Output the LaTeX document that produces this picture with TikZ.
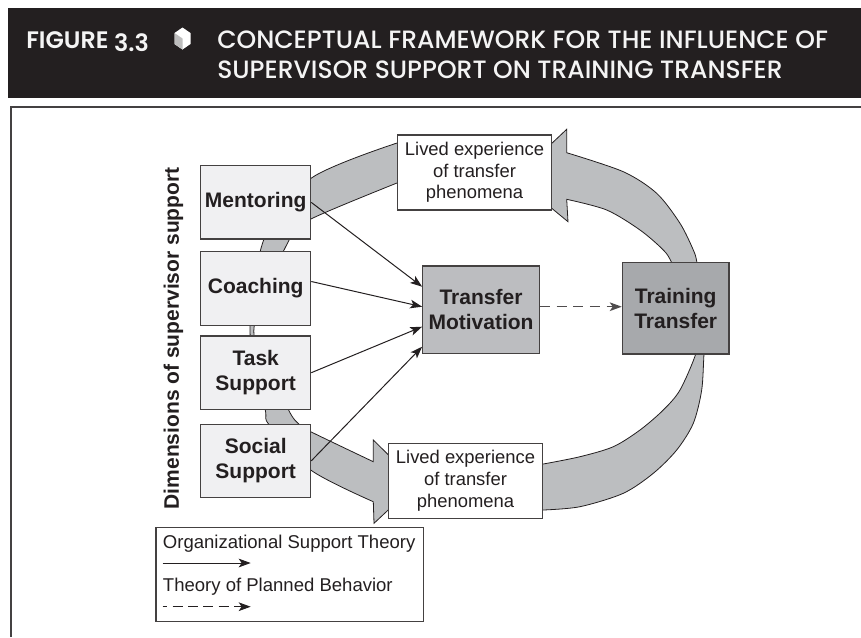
\documentclass[tikz,border=0pt]{standalone}
\usepackage{fontspec}
\setmainfont{Liberation Sans}
\IfFontExistsTF{Poppins Medium}{\newfontfamily\titlefont{Poppins Medium}}{\newfontfamily\titlefont{Poppins}[FakeBold=0.7]}
\IfFontExistsTF{Poppins SemiBold}{\newfontfamily\figfont{Poppins SemiBold}}{\newfontfamily\figfont{Poppins}[FakeBold=1.6]}
\usetikzlibrary{arrows.meta,calc}
\definecolor{ink}{HTML}{231F20}
\definecolor{boxlight}{HTML}{F0F0F2}
\definecolor{tmgray}{HTML}{BCBDC0}
\definecolor{ttgray}{HTML}{A7A9AC}
\definecolor{bandgray}{HTML}{BCBEC0}
\definecolor{titlewhite}{HTML}{F4F4F4}
\definecolor{hexgray}{HTML}{BDBDBD}
\begin{document}
\begin{tikzpicture}[x=0.75pt,y=-0.75pt,
  band/.style={fill=bandgray,draw=ink,line width=0.6pt,line join=miter},
  dimbox/.style={draw=ink!85,line width=0.9pt,fill=boxlight,text=ink,
    font=\fontsize{15.75}{18.4}\selectfont\bfseries,align=center,inner sep=0pt,
    minimum width=82.5pt,minimum height=55pt},
  tmbox/.style={dimbox,fill=tmgray,minimum width=87.4pt,minimum height=65.5pt},
  ttbox/.style={dimbox,fill=ttgray,minimum width=80pt,minimum height=68.5pt},
  livedbox/.style={draw=ink!85,line width=0.9pt,fill=white,text=ink,
    font=\fontsize{13.8}{16.3}\selectfont,align=center,inner sep=0pt,
    minimum width=115.8pt,minimum height=56.25pt},
  legbox/.style={draw=ink!85,line width=0.9pt,fill=white,inner sep=0pt,
    minimum width=200.5pt,minimum height=70.5pt},
  legtext/.style={text=ink,font=\fontsize{13.9}{16}\selectfont,inner sep=0pt,anchor=base west},
  osarrow/.style={draw=ink,line width=0.75pt,-{Stealth[length=9pt,width=6.5pt,inset=2.2pt]}},
  tpbarrow/.style={draw=ink!80,line width=1.1pt,dash pattern=on 7.5pt off 5pt,
    -{Stealth[length=9pt,width=6.5pt,inset=2.2pt]}},
  titletext/.style={anchor=base west,inner sep=0pt,text=titlewhite,
    font=\titlefont\fontsize{18.8}{20}\selectfont}
]
\useasboundingbox (0,0) rectangle (861,637);

% ---- title banner ----
\fill[ink] (8,8) rectangle (861,98);
\node[titletext,font=\figfont\fontsize{17.9}{20}\selectfont] (figno) at (26,48.5) {FIGURE \raisebox{-2.4pt}{3.3}};
\fill[white] (182.5,27.5) -- (190.5,33) -- (190.5,44) -- (182.5,49.5) -- (174.5,44) -- (174.5,33) -- cycle;
\fill[hexgray] (174.5,33) -- (182.5,38.5) -- (182.5,49.5) -- (174.5,44) -- cycle;
\node[titletext] (title1) at (217,48.5) {CONCEPTUAL FRAMEWORK FOR THE INFLUENCE OF};
\node[titletext] (title2) at (217,78.5) {SUPERVISOR SUPPORT ON TRAINING TRANSFER};

% ---- frame ----
\draw[ink!85,line width=1.5pt] (10.5,637) -- (10.5,106.5) -- (861,106.5);

% ---- big curved band ----
\filldraw[band] (566.7,129.3) -- plot[smooth] coordinates {(566.7,152.7) (623.3,171.7) (656.7,193.3) (680,223.3) (693.3,250) (697,262.7) (703,300)}
  -- plot[smooth] coordinates {(688,300) (671.7,262.7) (663.3,250) (640,230) (606.7,210) (566.7,199.3)}
  -- (568,221.7) -- (515,178) -- cycle;
\filldraw[band] (412,143) -- plot[smooth] coordinates {(397,143) (311,178.3) (264.3,238.3) (250,331) (265,408.3) (269.3,425) (310.7,470) (373.3,501.7)}
  -- (374,523.3) -- (417,483) -- (373.3,440)
  -- plot[smooth] coordinates {(373.3,461.7) (310.7,431.7) (300,425) (287.7,408.3) (253.8,331) (290,238.3) (311,219) (397,183)}
  -- (412,183) -- cycle;
\filldraw[band] (530,464) -- plot[smooth] coordinates {(543.3,464) (580,456.7) (613.3,446.7) (640,430) (663.3,410) (680,390) (695.7,354) (697,335)}
  -- plot[smooth] coordinates {(706,335) (704,354) (701.7,390) (693.3,423.3) (676.7,450) (653.3,473.3) (623.3,493.3) (580,506.7) (543.3,510)}
  -- (530,510) -- cycle;

% ---- nodes ----
\node[dimbox] (ment) at (255.7,202.4) {Mentoring};
\node[dimbox] (coach) at (255.7,288.5) {Coaching};
\node[dimbox] (task) at (255.7,372.7) {Task\\Support};
\node[dimbox] (social) at (255.7,460.8) {Social\\Support};
\node[tmbox] (tm) at (481,309.7) {Transfer\\Motivation};
\node[ttbox] (tt) at (675.7,308.3) {Training\\Transfer};
\node[livedbox] (lvtop) at (474.5,172.5) {Lived experience\\of transfer\\phenomena};
\node[livedbox] (lvbot) at (465.5,480.8) {Lived experience\\of transfer\\phenomena};
\node[rotate=90,inner sep=0pt,text=ink,font=\fontsize{15.75}{18.4}\selectfont\bfseries] (dimlabel) at (173.5,338.3) {Dimensions of supervisor support};

% ---- connectors ----
\draw[osarrow] (ment.east) -- ($(tm.west)+(0,-23)$);
\draw[osarrow] ($(coach.east)+(0,-7)$) -- ($(tm.west)+(0,-3)$);
\draw[osarrow] (task.east) -- ($(tm.west)+(0,17)$);
\draw[osarrow] (social.east) -- ($(tm.west)+(0,37)$);
\draw[tpbarrow] ($(tm.east)+(0,-3)$) -- ($(tt.west)+(0,-1.6)$);

% ---- legend ----
\node[legbox] (leg) at (289.7,574.7) {};
\node[legtext] (ost) at (162.7,548) {Organizational Support Theory};
\node[legtext] (tpb) at (162.7,591.7) {Theory of Planned Behavior};
\coordinate (os1) at (162.7,563);
\coordinate (os2) at (250.7,563);
\coordinate (tp1) at (162.7,606.7);
\coordinate (tp2) at (250.7,606.7);
\draw[osarrow] (os1) -- (os2);
\draw[tpbarrow,draw=ink,line width=0.75pt,dash pattern=on 7.5pt off 4pt,dash phase=4pt] (tp1) -- (tp2);
\end{tikzpicture}
\end{document}
